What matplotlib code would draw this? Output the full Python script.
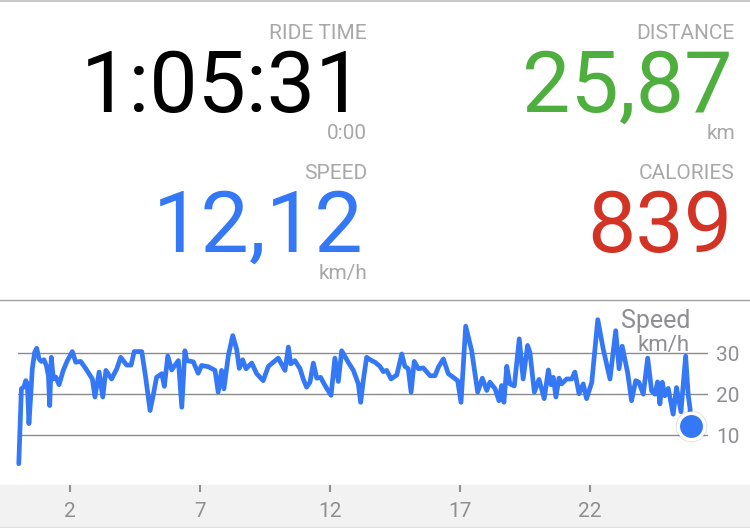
import matplotlib.pyplot as plt
from matplotlib.patches import Rectangle
from matplotlib.lines import Line2D

plt.rcParams['font.family'] = ['Roboto', 'DejaVu Sans']

# Summary values
ride_time = "1:05:31"
distance = "25,87"
speed_now = "12,12"
calories = "839"

# Speed profile: distance (km) and speed (km/h)
dist_km = [0.03, 0.13, 0.23, 0.30, 0.36, 0.42, 0.49, 0.55, 0.64, 0.72, 0.81, 0.90, 1.00, 1.09, 1.17, 1.22,
           1.28, 1.36, 1.45, 1.58, 1.74, 1.90, 2.09, 2.22, 2.41, 2.60, 2.86, 2.96, 3.12, 3.26, 3.38, 3.60,
           3.80, 3.95, 4.18, 4.35, 4.47, 4.76, 4.91, 5.08, 5.20, 5.33, 5.53, 5.63, 5.76, 5.91, 6.17, 6.30,
           6.42, 6.49, 6.74, 6.93, 7.06, 7.32, 7.58, 7.70, 7.83, 7.92, 8.09, 8.26, 8.41, 8.51, 8.64, 8.77,
           8.99, 9.18, 9.43, 9.63, 10.01, 10.27, 10.40, 10.49, 10.65, 10.85, 10.97, 11.10, 11.23, 11.36,
           11.49, 11.64, 11.81, 12.04, 12.19, 12.32, 12.45, 12.70, 12.90, 13.09, 13.18, 13.28, 13.41, 13.60,
           13.73, 13.92, 14.05, 14.18, 14.35, 14.57, 14.76, 14.88, 15.01, 15.12, 15.24, 15.40, 15.59, 15.85,
           16.04, 16.17, 16.36, 16.55, 16.74, 16.91, 17.04, 17.22, 17.45, 17.68, 17.86, 18.03, 18.15, 18.35,
           18.50, 18.60, 18.69, 18.80, 18.92, 19.09, 19.28, 19.43, 19.60, 19.69, 19.86, 20.04, 20.24, 20.40,
           20.50, 20.59, 20.69, 20.81, 20.91, 21.10, 21.30, 21.42, 21.58, 21.74, 21.87, 22.07, 22.30, 22.51,
           22.77, 22.99, 23.12, 23.24, 23.45, 23.60, 23.76, 23.88, 24.05, 24.22, 24.37, 24.50, 24.60, 24.69,
           24.78, 24.88, 25.01, 25.20, 25.33, 25.50, 25.68, 25.78, 25.85, 25.87]
speed_kmh = [3.0, 21.3, 21.8, 23.3, 22.5, 12.8, 19.7, 26.2, 30.2, 31.2, 28.6, 28.0, 28.4, 27.0, 24.5, 17.2,
             29.0, 23.7, 24.2, 22.3, 25.8, 28.2, 30.4, 27.8, 28.0, 26.3, 23.7, 19.3, 25.4, 19.3, 25.8, 23.7,
             26.2, 29.0, 27.1, 27.1, 30.4, 30.4, 24.1, 16.0, 19.7, 24.1, 25.0, 21.9, 29.3, 25.9, 28.2, 16.8,
             30.6, 28.2, 27.9, 25.1, 27.0, 26.7, 25.8, 20.5, 25.8, 21.3, 29.4, 34.3, 31.0, 26.3, 28.4, 26.2,
             27.6, 25.0, 23.3, 26.8, 28.8, 25.8, 31.5, 27.4, 28.2, 26.2, 23.7, 21.7, 22.9, 27.6,
             23.9, 24.1, 22.1, 19.7, 28.8, 23.1, 30.6, 27.8, 25.8, 22.5, 18.0, 23.3, 29.0, 28.2,
             27.8, 26.8, 25.5, 25.8, 23.7, 24.7, 29.8, 26.8, 26.2, 20.5, 28.0, 26.2, 26.4, 24.5,
             24.5, 26.6, 28.6, 25.0, 24.1, 23.3, 18.0, 36.6, 30.6, 20.5, 23.9, 20.9, 22.9, 21.3,
             18.4, 22.1, 18.0, 26.8, 22.5, 22.0, 33.5, 23.7, 31.9, 30.2, 20.5, 23.6, 18.9, 25.9,
             22.3, 24.1, 19.3, 23.9, 22.5, 23.7, 23.7, 25.4, 20.1, 22.5, 18.9, 22.9, 38.2, 31.0,
             23.7, 35.5, 26.2, 31.7, 25.2, 18.4, 23.3, 22.9, 20.0, 28.8, 20.8, 20.0, 23.0, 17.6,
             22.9, 19.6, 21.4, 15.1, 21.6, 15.7, 29.3, 19.7, 16.5, 12.12]

x_ticks = [2, 7, 12, 17, 22]
y_ticks = [10, 20, 30]

blue = '#3478F6'
green = '#4FAF3E'
red = '#D33324'
label_gray = '#A8A8A8'
axis_gray = '#8E8E93'

W, H = 750, 528
fig = plt.figure(figsize=(W / 100, H / 100), dpi=100)
fig.patch.set_facecolor('white')


def fx(px):
    return px / W


def fy(py):
    return 1 - py / H


# stat blocks: (label, value, unit, colour, right edge, row offset)
stats = [("RIDE TIME", ride_time, "0:00", 'black', 367, 0),
         ("DISTANCE", distance, "km", green, 735, 0),
         ("SPEED", speed_now, "km/h", blue, 367, 140),
         ("CALORIES", calories, "", red, 735, 140)]
for label, value, unit, color, xr, dy in stats:
    fig.text(fx(xr), fy(39 + dy), label, ha='right', va='baseline', fontsize=15, color=label_gray)
    fig.text(fx(xr - 3), fy(112 + dy), value, ha='right', va='baseline', fontsize=62, color=color)
    if unit:
        fig.text(fx(xr), fy(139 + dy), unit, ha='right', va='baseline', fontsize=15, color=label_gray)

# separator lines
fig.add_artist(Line2D([0, 1], [fy(300), fy(300)], color='#A0A0A0', lw=1))
fig.add_artist(Line2D([0, 1], [fy(1), fy(1)], color='#C8C8C8', lw=1.5))

# x axis band
fig.add_artist(Rectangle((0, 0), 1, fy(485), color='#F2F2F2', zorder=0))
fig.add_artist(Line2D([0, 1], [fy(527), fy(527)], color='#E2E2E2', lw=1))

ax = fig.add_axes([fx(18), fy(485), fx(690), fy(300) - fy(485)])
ax.set_facecolor('none')
ax.set_xlim(0, 26.54)
ax.set_ylim(-2.2, 43.0)
for s in ax.spines.values():
    s.set_visible(False)

for v in y_ticks:
    ax.axhline(v, color='#8A8A8A', lw=1, zorder=1)

ax.plot(dist_km, speed_kmh, color=blue, lw=3.4, solid_joinstyle='round',
        solid_capstyle='round', zorder=3, clip_on=False)

# current position marker
ax.plot(dist_km[-1], speed_kmh[-1], 'o', ms=22, color='black', alpha=0.08, zorder=4, clip_on=False)
ax.plot(dist_km[-1], speed_kmh[-1], 'o', ms=19, mfc=blue, mec='white', mew=2.5, zorder=5, clip_on=False)

ax.set_xticks(x_ticks)
ax.set_xticklabels([str(t) for t in x_ticks])
ax.tick_params(axis='x', direction='out', length=5, width=1.5, color=axis_gray,
               labelsize=15, labelcolor=axis_gray, pad=7)

ax.set_yticks(y_ticks)
ax.set_yticklabels([str(t) for t in y_ticks])
ax.yaxis.tick_right()
ax.tick_params(axis='y', length=0, pad=6, labelsize=15, labelcolor=axis_gray)

ax.text(fx(690 - 18) / fx(690), 1 - (328 - 300) / 185, "Speed", transform=ax.transAxes,
        ha='right', va='baseline', fontsize=18, color=axis_gray)
ax.text(fx(690 - 18) / fx(690), 1 - (351 - 300) / 185, "km/h", transform=ax.transAxes,
        ha='right', va='baseline', fontsize=16, color=axis_gray)

fig.savefig('out.png', dpi=100)
